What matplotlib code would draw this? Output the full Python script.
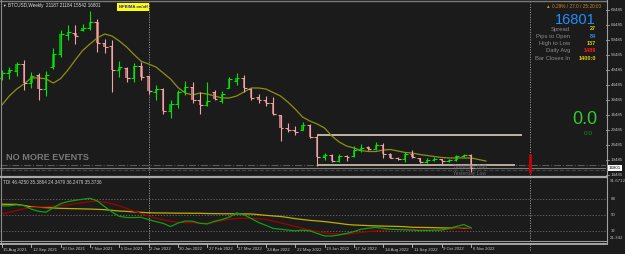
import numpy as np
import matplotlib
matplotlib.use('Agg')
import matplotlib.pyplot as plt
import matplotlib.transforms as mtransforms
from matplotlib.lines import Line2D
from matplotlib.patches import Rectangle

# BTCUSD weekly bars, 15 Aug 2021 .. 6 Nov 2022
opens = [46800, 48400, 49000, 51600, 45100, 47700, 43000, 50600, 54900, 61000,
         61900, 62900, 63600, 65500, 58600, 57300, 49300, 50100, 46700, 50800,
         47300, 42000, 43000, 35800, 38000, 42300, 43800, 39300, 37800, 42000,
         39200, 43500, 45800, 46800, 43200, 40300, 39400, 38400, 34300, 30300,
         29600, 29500, 31100, 27200, 20600, 21200, 19000, 20900, 20800, 22700,
         23800, 23100, 24400, 21600, 20300, 19800, 21500, 20100, 18900, 19400,
         19700, 19000, 19500, 20700, 21187]
highs = [49400, 50400, 52000, 52900, 48800, 48400, 49200, 56700, 62900, 64500,
         64400, 64700, 69000, 66300, 59800, 59300, 52300, 50600, 51900, 52100,
         47600, 44400, 43600, 39300, 42800, 45800, 45500, 42000, 45400, 42800,
         42600, 47100, 48300, 47700, 43500, 41500, 40800, 40300, 34500, 31800,
         30700, 32000, 31600, 27800, 21800, 21500, 21500, 21200, 24300, 24700,
         24100, 25400, 25100, 21800, 20500, 22100, 22700, 20200, 20200, 20400,
         19800, 19800, 21000, 21450, 21484]
lows = [46100, 46500, 47600, 42800, 43400, 39600, 40800, 49700, 53800, 59400,
        58200, 62300, 62800, 55600, 55000, 42000, 47000, 45600, 45600, 46000,
        41500, 39600, 34800, 33500, 36800, 41200, 38500, 34800, 37500, 39400,
        38500, 43300, 44500, 42200, 39500, 38500, 37500, 34500, 25800, 28900,
        27900, 29400, 26700, 17500, 19500, 18800, 18800, 19100, 20600, 22100,
        22800, 22800, 20300, 20100, 19500, 18800, 20100, 18500, 18500, 19100,
        18200, 18800, 19200, 20500, 15542]
closes = [48400, 49600, 51600, 45200, 47600, 43000, 47700, 54900, 61500, 62000,
          60900, 63600, 65500, 58600, 57200, 49400, 50300, 46700, 50800, 47200,
          42500, 43000, 35800, 38000, 42200, 43800, 39300, 37800, 39200, 39800,
          41500, 46500, 46800, 43300, 40200, 39300, 38400, 34800, 30100, 29600,
          28900, 31100, 27200, 20600, 21200, 19000, 20900, 20500, 22700, 23600,
          23100, 24400, 21600, 20300, 19800, 21500, 20400, 18900, 19500, 19700,
          19000, 19500, 20700, 21190, 16801]

# moving average (yellow line on price panel)
ma_line = [37800, 40800, 43100, 44800, 46800, 46800, 46500, 45100, 46600, 49450,
           52780, 55940, 58110, 60100, 61440, 60770, 59110, 57110, 54610, 52350,
           51450, 50450, 48450, 46450, 43620, 41790, 41120, 41790, 41460, 40790,
           40130, 40130, 40790, 42120, 43460, 43460, 43120, 41960, 40790, 38790,
           36460, 33800, 32470, 31470, 30140, 27470, 25470, 24140, 23480, 22640,
           22310, 22310, 22810, 22980, 22480, 21980, 21810, 21310, 20980, 20640,
           20310, 20150, 20150, 20150, 20150, 19650, 19150]

# TDI sub-window
tdi_price = [60.5, 60.7, 61.7, 60.8, 57.0, 54.5, 53.5, 58.4, 63.1, 65.3,
             66.8, 68.0, 69.0, 66.1, 59.7, 53.8, 48.9, 47.6, 47.5, 47.8,
             45.2, 43.0, 41.0, 37.5, 41.3, 43.6, 43.4, 41.1, 40.4, 43.4,
             45.3, 48.0, 52.7, 50.7, 46.5, 42.0, 38.8, 35.4, 34.5, 33.6,
             32.7, 33.5, 32.7, 29.8, 27.0, 26.9, 28.1, 29.8, 31.8, 34.5,
             35.6, 36.5, 35.5, 34.4, 34.1, 33.8, 33.5, 33.0, 33.2, 33.4,
             33.6, 35.5, 37.6, 39.7, 36.2]
tdi_signal = [51.6, 53.3, 55.3, 57.5, 58.7, 59.2, 59.5, 60.2, 60.9, 61.7,
              63.1, 64.2, 65.4, 65.8, 64.8, 62.9, 60.6, 57.8, 54.7, 51.9,
              48.9, 46.9, 44.9, 43.4, 42.4, 41.7, 41.6, 41.3, 41.1, 42.3,
              44.2, 45.5, 46.5, 46.7, 46.5, 46.3, 45.5, 43.4, 41.6, 39.8,
              37.6, 35.6, 33.7, 32.0, 30.5, 29.5, 29.2, 28.8, 29.8, 31.0,
              31.9, 32.7, 33.3, 34.2, 34.4, 34.4, 34.2, 33.9, 33.6, 33.6,
              33.7, 34.4, 35.3, 36.0, 35.4]
tdi_base = [62.4, 62.3, 62.3, 61.0, 59.5, 59.0, 58.6, 58.2, 57.8, 57.6,
            57.4, 57.2, 57.0, 56.7, 56.3, 55.6, 54.8, 54.4, 53.8, 53.3,
            52.9, 52.7, 52.6, 52.5, 52.4, 52.4, 52.3, 52.3, 52.0, 51.9,
            51.8, 51.7, 51.6, 51.6, 51.5, 50.8, 50.0, 49.3, 48.7, 47.6,
            46.3, 45.3, 44.4, 43.7, 43.0, 42.0, 41.0, 39.9, 39.2, 38.9,
            38.5, 38.2, 38.0, 37.8, 37.6, 37.3, 36.6, 36.5, 36.4, 36.2,
            36.0, 35.8, 35.6, 35.5, 35.4]
tdi_levels = [68, 50, 32]
tdi_min, tdi_max = 21.342, 91.6712

date_labels = ['15 Aug 2021', '12 Sep 2021', '10 Oct 2021', '7 Nov 2021', '5 Dec 2021',
               '2 Jan 2022', '30 Jan 2022', '27 Feb 2022', '27 Mar 2022', '24 Apr 2022',
               '22 May 2022', '19 Jun 2022', '17 Jul 2022', '14 Aug 2022', '11 Sep 2022',
               '9 Oct 2022', '6 Nov 2022']
price_ticks = [14485, 19485, 24485, 29485, 34485, 39485, 44485, 49485, 54485,
               59485, 64485, 69485]

last_price = 16801
level_dashdot, level_dashed = 17850, 16150
box_top, box_bottom = 27800, 17800
box_from, box_to_top, box_to_bottom = 43, 71, 70
year_bar, now_bar = 20, 72
timer_bar = (15200, 21500)

BG = '#1b1b1b'
W, H = 625, 254
plt.rcParams['font.family'] = ['Liberation Sans', 'DejaVu Sans']


def fx(px):
    return px / W


def fy(py):
    return 1 - py / H


def box(x0, y0, x1, y1):
    return [fx(x0), fy(y1), (x1 - x0) / W, (y1 - y0) / H]


fig = plt.figure(figsize=(W / 100, H / 100), dpi=100, facecolor=BG)
ax = fig.add_axes(box(0, 2, 606, 175))
ax2 = fig.add_axes(box(0, 178, 606, 241))
for a in (ax, ax2):
    a.set_facecolor(BG)
    a.set_xlim(-0.27, 82.4)
    a.axis('off')
ax.set_ylim(14485, 72094)
ax2.set_ylim(tdi_min, tdi_max)

# ---- price panel
dot = (0, (1.5, 1.5))
for a in (ax, ax2):
    a.axvline(year_bar, color='#a0a0a0', lw=0.6, ls=dot)
    a.axvline(now_bar, color='#a0a0a0', lw=0.6, ls=dot)

ax.axhline(level_dashdot, color='#5a5a5a', lw=0.8, ls='-.')
ax.axhline(level_dashed, color='#454545', lw=0.8, ls='--')
ax.axhline(last_price, color='#7c7c7c', lw=0.8)
ax.hlines(box_top, box_from, box_to_top, color='#dcd0bf', lw=1.2)
ax.hlines(box_bottom, box_from, box_to_bottom, color='#b8ad9c', lw=1.4)

ax.plot(np.arange(len(ma_line)), ma_line, color='#8f8f12', lw=0.9)

for i in range(len(opens)):
    o, h, l, c = opens[i], highs[i], lows[i], closes[i]
    up = c >= o
    wick = '#00e600' if up else '#f2a3a3'
    body = '#12a012' if up else '#b47474'
    ax.vlines(i, l, h, color=wick, lw=0.8)
    ax.bar(i, max(abs(c - o), 150), bottom=min(o, c), width=0.34, color=body, lw=0)
    ax.hlines(c, i, i + 0.4, color=wick, lw=0.8)
    ax.hlines(o, i - 0.4, i, color=wick, lw=0.7)

ax.vlines(now_bar, timer_bar[0], timer_bar[1], color='#d00000', lw=2)

# ---- TDI panel
for lv in tdi_levels:
    ax2.axhline(lv, color='#6e6e6e', lw=0.6, ls=(0, (1.5, 2)))
xi = np.arange(len(tdi_base))
ax2.plot(xi, tdi_base, color='#c2ae00', lw=0.9)
ax2.plot(xi, tdi_signal, color='#a00000', lw=0.9)
ax2.plot(xi, tdi_price, color='#10a010', lw=0.9)


# ---- frame / separators
def hline_px(y, x0, x1, color, lw):
    fig.add_artist(Line2D([fx(x0), fx(x1)], [fy(y), fy(y)], color=color, lw=lw))


def vline_px(x, y0, y1, color, lw):
    fig.add_artist(Line2D([fx(x), fx(x)], [fy(y0), fy(y1)], color=color, lw=lw))


hline_px(1, 0, 606, '#7a7a7a', 1.0)
vline_px(1, 0, 244, '#8a8a8a', 0.8)
hline_px(176.5, 0, 606, '#a8a8a8', 1.6)
hline_px(241.2, 0, 606, '#9a9a9a', 0.8)
hline_px(243.6, 0, 606, '#bdbdbd', 1.2)
vline_px(606.5, 0, 244, '#a0a0a0', 0.8)

# dotted verticals through the date strip
trx = mtransforms.blended_transform_factory(ax2.transData, fig.transFigure)
for b in (year_bar, now_bar):
    fig.add_artist(Line2D([b, b], [fy(244), fy(251)], transform=trx,
                          color='#a0a0a0', lw=0.6, ls=dot))

# date axis
lab_tr = mtransforms.offset_copy(trx, fig=fig, x=1.5, y=0, units='dots')
for k, lab in enumerate(date_labels):
    b = k * 4
    fig.add_artist(Line2D([b, b], [fy(244), fy(247)], transform=trx, color='#c0c0c0', lw=0.6))
    fig.text(b, fy(249.5), lab, transform=lab_tr, color='#c8c8c8', fontsize=3.1,
             ha='left', va='center')

# price axis
trp = mtransforms.blended_transform_factory(fig.transFigure, ax.transData)
for p in price_ticks:
    fig.add_artist(Line2D([fx(606), fx(609)], [p, p], transform=trp, color='#a0a0a0', lw=0.6))
    fig.text(fx(611), p, str(p), transform=trp, color='#bdbdbd', fontsize=3.2, va='center')
fig.text(fx(609), last_price, str(last_price), transform=trp, color='#000000', fontsize=3.2,
         va='center', bbox=dict(boxstyle='square,pad=0.25', fc='#ffffff', ec='none'))

# TDI axis labels
trt = mtransforms.blended_transform_factory(fig.transFigure, ax2.transData)
for lv in tdi_levels:
    fig.text(fx(611), lv, str(lv), transform=trt, color='#bdbdbd', fontsize=3.2, va='center')
fig.text(fx(610), fy(181), str(tdi_max), color='#bdbdbd', fontsize=3.2, va='center')
fig.text(fx(610), fy(238), str(tdi_min), color='#bdbdbd', fontsize=3.2, va='center')

# ---- texts
fig.text(fx(2), fy(5.5), '\u25bc', color='#e0e0e0', fontsize=2.6, va='center')
fig.text(fx(8), fy(5.5), 'BTCUSD,Weekly  21187 21184 15542 16801', color='#e0e0e0',
         fontsize=3.3, va='center')
fig.add_artist(Rectangle((fx(117), fy(11)), 32 / W, 8 / H, transform=fig.transFigure,
                         fc='#ffff00', ec='none'))
fig.text(fx(133), fy(7), 'NPB/MA on/off', color='#2020e0', fontsize=3.0, weight='bold',
         ha='center', va='center')

fig.text(fx(6), fy(157), 'NO MORE EVENTS', color='#7a7a7a', fontsize=6.6, weight='bold',
         va='center')
fig.text(fx(3), fy(183), 'TDI 46.4250 35.3864 24.3479 36.2479 35.3736', color='#d0d0d0',
         fontsize=3.3, va='center')
fig.text(fx(453), fy(166.5), 'Yesterday High', color='#6a6a6a', fontsize=3.6, va='center',
         zorder=5)
fig.text(fx(453), fy(173), 'Yesterday Low', color='#6a6a6a', fontsize=3.6, va='center',
         zorder=5)

fig.text(fx(601), fy(7), '\u25b2 0.29% / 27.0 / 25:20:00', color='#d08c1c', fontsize=3.4,
         ha='right', va='center')
fig.text(fx(596), fy(20), '16801', color='#1e90ff', fontsize=10.5, ha='right', va='center')

info_names = ['Spread', 'Pips to Open', 'High to Low', 'Daily Avg', 'Bar Closes In']
info_vals = ['27', '84', '137', '1489', '1400:0']
info_cols = ['#e8d000', '#1e90ff', '#e8d000', '#ff1a1a', '#e8d000']
for k, (nm, vl, cl) in enumerate(zip(info_names, info_vals, info_cols)):
    yy = 29 + k * 7.3
    fig.text(fx(570), fy(yy), nm, color='#8c8c8c', fontsize=4.2, ha='right', va='center')
    fig.text(fx(596), fy(yy), vl, color=cl, fontsize=4.0, weight='bold', ha='right', va='center')

fig.text(fx(597), fy(120), '0.0', color='#32cd32', fontsize=13, ha='right', va='center')
fig.text(fx(593), fy(133.5), '0.0', color='#1f8f1f', fontsize=4.6, ha='right', va='center')

plt.savefig('out.png', dpi=100, facecolor=BG)
